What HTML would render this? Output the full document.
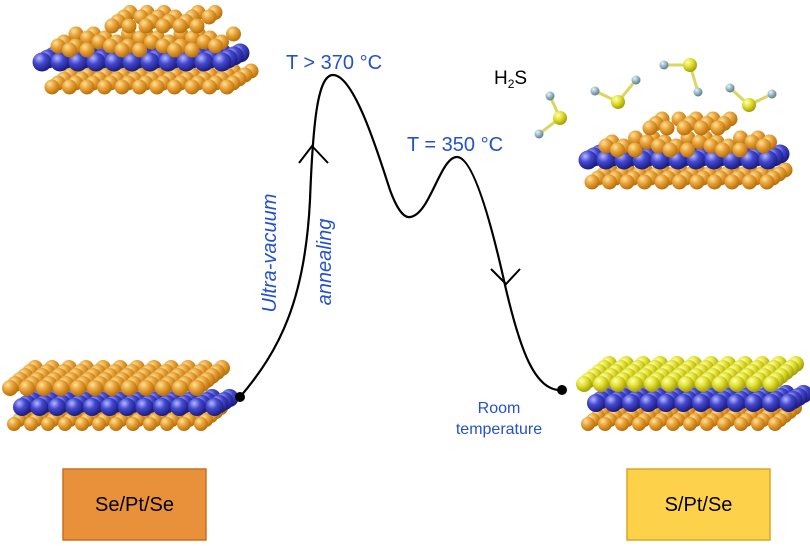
<!DOCTYPE html>
<html><head><meta charset="utf-8"><style>
html,body{margin:0;padding:0;background:#fff;}
svg{display:block;font-family:"Liberation Sans",sans-serif;}
</style></head><body>
<svg id="s" width="810" height="546" viewBox="0 0 810 546" xmlns="http://www.w3.org/2000/svg">
<defs>
<radialGradient id="go" cx="35%" cy="30%" r="70%"><stop offset="0" stop-color="#fde29a"/><stop offset="0.45" stop-color="#eaa43a"/><stop offset="1" stop-color="#b8700a"/></radialGradient>
<radialGradient id="gb" cx="35%" cy="30%" r="70%"><stop offset="0" stop-color="#b4b8ff"/><stop offset="0.45" stop-color="#4448d0"/><stop offset="1" stop-color="#1c1e80"/></radialGradient>
<radialGradient id="gy" cx="35%" cy="30%" r="70%"><stop offset="0" stop-color="#ffffb8"/><stop offset="0.45" stop-color="#e4e232"/><stop offset="1" stop-color="#a4a00a"/></radialGradient>
<radialGradient id="gh" cx="35%" cy="30%" r="70%"><stop offset="0" stop-color="#e8f4f8"/><stop offset="0.5" stop-color="#9ab8c6"/><stop offset="1" stop-color="#5e7e8c"/></radialGradient>
</defs>
<g id="atoms"></g>
<path d="M240,397 C280,350 305,300 310,200 C313,120 318,75 333,75 C355,75 380,160 390,190 C398,212 405,218 410,217 C430,215 440,157 457,157 C475,157 495,240 505,285 C520,350 535,392 562,390" fill="none" stroke="#000" stroke-width="2.2"/>
<polyline points="299,163 312,146 328,163" fill="none" stroke="#000" stroke-width="2"/>
<polyline points="491,269 506,284 520,269" fill="none" stroke="#000" stroke-width="2"/>
<circle cx="240" cy="397" r="5" fill="#000"/>
<circle cx="562" cy="390" r="5" fill="#000"/>
<g fill="#2550d0" font-size="20">
<text x="286" y="69">T &gt; 370 °C</text>
<text x="407" y="151">T = 350 °C</text>
<text transform="translate(276,253) rotate(-90)" text-anchor="middle" font-style="italic">Ultra-vacuum</text>
<text transform="translate(331,262) rotate(-90)" text-anchor="middle" font-style="italic">annealing</text>
<text x="499" y="413" text-anchor="middle" font-size="16">Room</text>
<text x="499" y="434" text-anchor="middle" font-size="16">temperature</text>
</g>
<text x="494" y="84" font-size="19" fill="#000">H<tspan font-size="12" dy="4">2</tspan><tspan dy="-4">S</tspan></text>
<rect x="63" y="469" width="143" height="71" fill="#e8903a" stroke="#c87020" stroke-width="1.5"/>
<text x="134.5" y="511" font-size="20" text-anchor="middle" fill="#000">Se/Pt/Se</text>
<rect x="627" y="469" width="143" height="71" fill="#fdd24a" stroke="#d8a820" stroke-width="1.5"/>
<text x="698.5" y="511" font-size="20" text-anchor="middle" fill="#000">S/Pt/Se</text>
</svg>
<script>
var g=document.getElementById('atoms'),out='';
function c(x,y,r,f){out+='<circle cx="'+x.toFixed(1)+'" cy="'+y.toFixed(1)+'" r="'+r+'" fill="url(#'+f+')"/>';}
function layer(x0,y0,n,rows,dx,sx,dy,r,f,skip){
  for(var j=rows-1;j>=0;j--)for(var i=0;i<n;i++){
    if(skip&&skip(i,j))continue;
    c(x0+i*dx+j*sx,y0-j*dy,r,f);}
}
function line(x1,y1,x2,y2){out+='<line x1="'+x1+'" y1="'+y1+'" x2="'+x2+'" y2="'+y2+'" stroke="#d8d860" stroke-width="3"/>';}
layer(14,424,12,5,17,5,4,7,'go');
layer(22,407,12,4,17.5,5,3,9,'gb');
layer(10,388,12,6,17,5,4,8,'go');
layer(588,424,12,5,17,5,4,7,'go');
layer(596,403,12,4,17.5,5,3,9,'gb');
layer(584,384,12,6,17,5,4,8,'gy');
layer(52,87,11,5,17.5,6,4,7.5,'go');
layer(42,62,11,4,18,6,3,9.5,'gb');
layer(52,50,10,5,17.5,6,4,7.5,'go',function(i,j){return (i+j)%3==0;});
layer(112,26,6,4,17,6,4.5,7.5,'go',function(i,j){return (i*j)%4==1;});
layer(592,182,11,4,17.5,6,4,7.5,'go');
layer(588,160,11,3,18,6,3,9.5,'gb');
layer(600,150,10,4,17.5,6,4,7.5,'go',function(i,j){return (i+j)%3==0;});
layer(650,128,5,3,17,6,4.5,7.5,'go',function(i,j){return (i*j)%4==1;});
var m=[[560,118,550,96,539,134],[618,102,595,91,636,80],[690,65,664,65,698,92],[749,105,730,88,772,94]];
m.forEach(function(a){line(a[0],a[1],a[2],a[3]);line(a[0],a[1],a[4],a[5]);c(a[2],a[3],4.5,'gh');c(a[4],a[5],4.5,'gh');c(a[0],a[1],7,'gy');});
g.innerHTML=out;
</script>
</body></html>
